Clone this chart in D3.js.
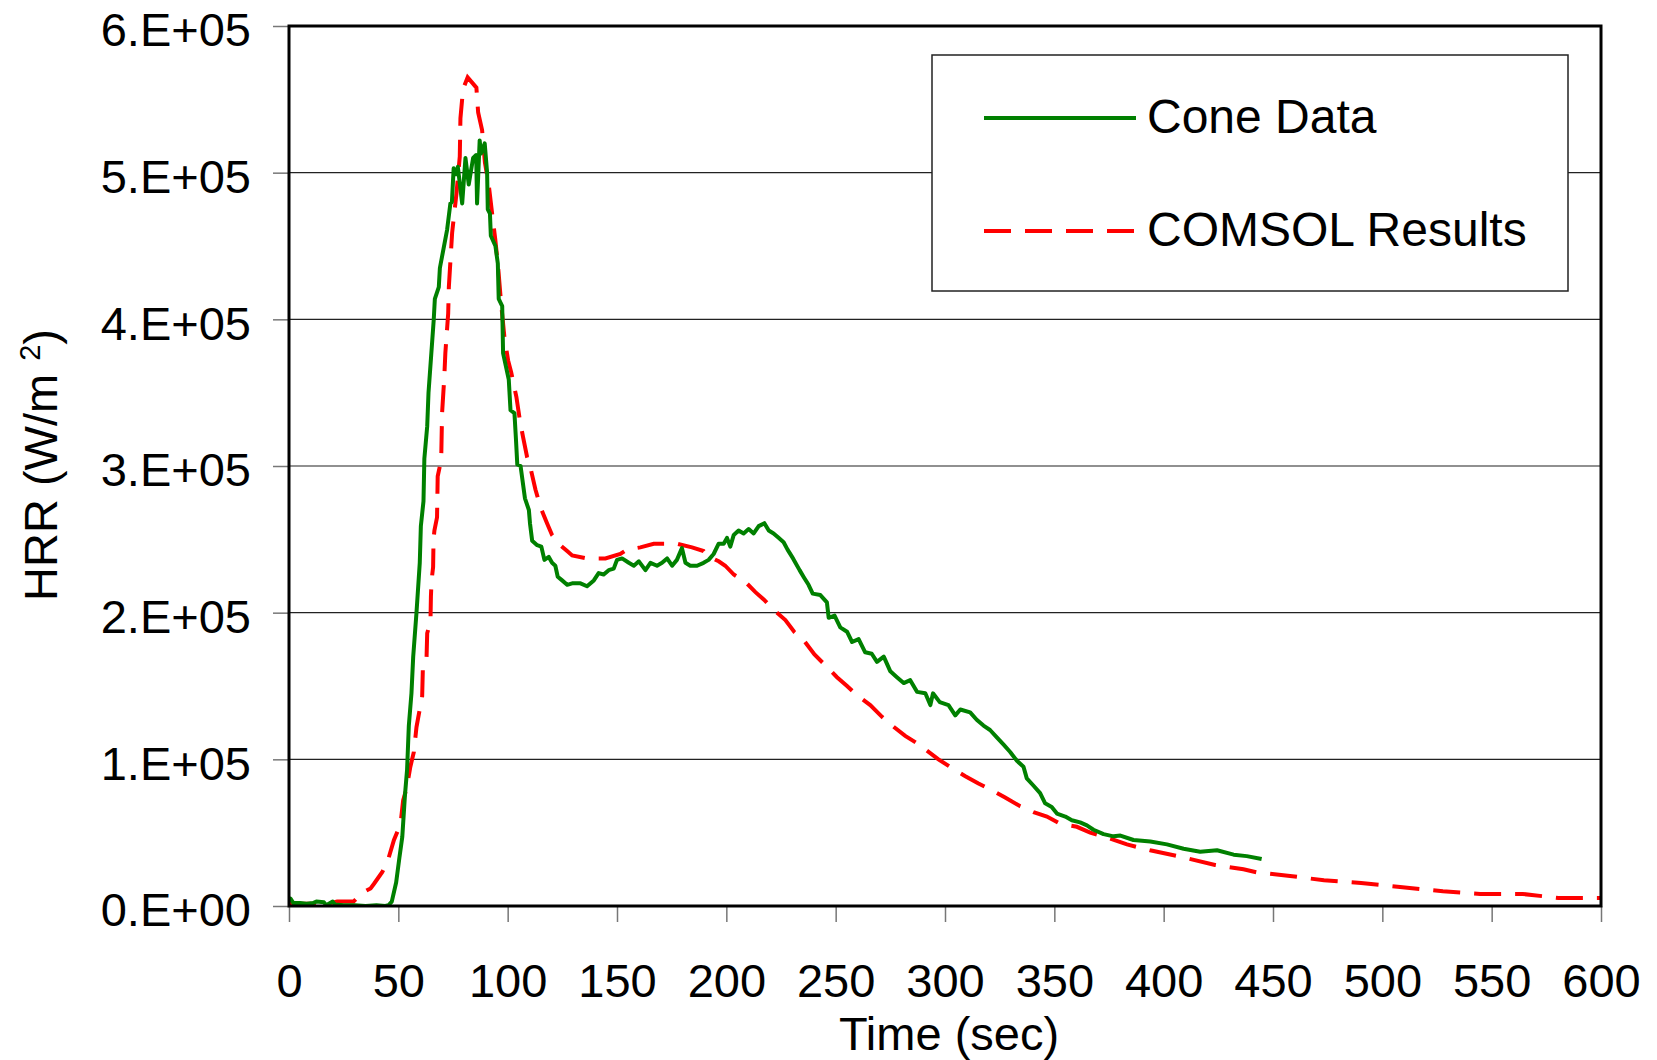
<!DOCTYPE html>
<html>
<head>
<meta charset="utf-8">
<script src="https://cdn.jsdelivr.net/npm/d3@7"></script>
<style>
  body { margin: 0; background: #fff; }
  svg { display: block; font-family: "Liberation Sans", Arial, sans-serif; }
</style>
</head>
<body>
<div id="chart"></div>
<script>
// HRR values are in units of 1e5 W/m2
var xTicks = [0, 50, 100, 150, 200, 250, 300, 350, 400, 450, 500, 550, 600];
var yTicks = [0, 1, 2, 3, 4, 5, 6];
var yTickLabels = ["0.E+00", "1.E+05", "2.E+05", "3.E+05", "4.E+05", "5.E+05", "6.E+05"];
var seriesNames = ["Cone Data", "COMSOL Results"];

var coneTime = [0, 0.7, 2, 5, 8, 11, 12.5, 16, 17, 20, 21, 25, 30, 35, 40, 44, 45.5, 47, 49, 50.5,
  51.8, 53, 54, 54.8, 56, 56.8, 58.3, 59.8, 60.3, 61.5, 61.9, 63.2, 63.8, 66.2, 66.7, 68.5, 69, 72.3, 73.8, 74.5,
  75.3, 76.5, 77.2, 79.2, 80.7, 82.2, 84.2, 85.6, 86, 87.2, 87.8, 89.5, 90.6, 90.9, 91.9, 92.3, 94.4, 95.5, 95.9, 97.5,
  97.9, 100.5, 101.3, 103.1, 103.8, 104.4, 105.9, 107.9, 109.7, 110.2, 111.2, 113.5, 115.4, 116.8, 118.8, 120.3, 121.8, 122.9, 124.9, 127.2,
  129.5, 133.3, 136.3, 139.4, 141.6, 143.9, 146.2, 148.5, 150, 152.3, 155.4, 157.7, 160, 163, 165.3, 168.3, 170.6, 172.9, 175.2, 177.4,
  179.7, 181.3, 183.5, 186.6, 189.6, 191.9, 194.2, 196.5, 198.8, 200.3, 201.8, 203.4, 205.6, 207.9, 210.2, 212.5, 214.8, 217.4, 219.4, 221.6,
  223.9, 226.2, 228, 230.5, 233.5, 235.5, 237.6, 239.5, 243, 246, 246.8, 249.5, 252.1, 255.2, 257.5, 260.5, 263.5, 266.5, 268.9, 272,
  275, 278, 281.1, 284.1, 287.2, 291, 293.3, 294.5, 297.6, 301.6, 304.7, 307, 311.5, 314.5, 317.6, 320.6, 323.7, 326.8, 329.8, 332.9,
  335.9, 337.4, 340.5, 343.5, 345.8, 348.8, 351.2, 355, 358, 361.8, 364.9, 367.9, 372.5, 377.1, 380.2, 386.2, 393.9, 401.5, 409.1, 416.7,
  424.4, 432, 438, 444.8];
var coneHRR = [0.04, 0.05, 0.02, 0.02, 0.015, 0.02, 0.03, 0.025, 0.005, 0.03, 0.01, 0.005, 0.005, 0, 0.005, 0, 0.005, 0.03, 0.16, 0.33,
  0.47, 0.75, 0.93, 1.23, 1.45, 1.7, 2.0, 2.34, 2.59, 2.76, 3.05, 3.27, 3.5, 4.0, 4.14, 4.22, 4.35, 4.61, 4.79, 4.8,
  5.03, 4.99, 5.04, 4.79, 5.1, 4.92, 5.1, 5.12, 4.79, 5.22, 5.13, 5.2, 5.0, 4.75, 4.72, 4.57, 4.5, 4.38, 4.14, 4.09,
  3.77, 3.59, 3.38, 3.36, 3.18, 3.01, 3.0, 2.78, 2.7, 2.61, 2.49, 2.46, 2.45, 2.36, 2.38, 2.34, 2.32, 2.245, 2.22, 2.19,
  2.2, 2.2, 2.18, 2.22, 2.27, 2.26, 2.29, 2.3, 2.36, 2.37, 2.34, 2.32, 2.35, 2.29, 2.34, 2.32, 2.34, 2.37, 2.32, 2.36,
  2.44, 2.34, 2.32, 2.32, 2.34, 2.36, 2.4, 2.47, 2.47, 2.51, 2.45, 2.53, 2.56, 2.54, 2.57, 2.54, 2.59, 2.61, 2.56, 2.54,
  2.51, 2.48, 2.43, 2.37, 2.29, 2.24, 2.19, 2.13, 2.12, 2.07, 1.965, 1.98, 1.9, 1.87, 1.8, 1.82, 1.73, 1.72, 1.665, 1.7,
  1.6, 1.56, 1.52, 1.54, 1.46, 1.45, 1.37, 1.45, 1.39, 1.37, 1.3, 1.34, 1.32, 1.27, 1.23, 1.2, 1.15, 1.1, 1.05, 0.99,
  0.95, 0.87, 0.82, 0.77, 0.7, 0.675, 0.63, 0.61, 0.585, 0.57, 0.55, 0.52, 0.49, 0.475, 0.48, 0.45, 0.44, 0.42, 0.39, 0.37,
  0.38, 0.35, 0.34, 0.32];

var comsolTime = [0, 11, 14, 18, 22, 29.5, 33.5, 37.3, 38.8, 42.6, 44.5, 45.6, 48, 51, 52.2, 53.9, 55.5, 57.1, 58.3, 59.4,
  60.9, 61.2, 62.9, 63.2, 64.7, 64.9, 65.2, 65.9, 66.1, 66.5, 67.7, 68, 69.6, 70, 71, 71.5, 72.8, 73.1, 74.6, 76.6,
  78.1, 78.4, 79.6, 81.7, 85.7, 86.5, 88.3, 89.6, 91.4, 92.9, 94.3, 95.5, 97, 98.5, 100.2, 101.6, 104, 105.6, 107, 108.9,
  110.7, 112.7, 115, 118, 120.3, 124.1, 127.2, 129.5, 136.3, 144.7, 151.5, 154.6, 160.7, 166.8, 177.4, 184.3, 189.6, 191.1, 196.5, 199.5,
  203.4, 208.7, 213.3, 217.1, 221.6, 227, 231, 235.5, 240.3, 246, 250.6, 255.2, 259.5, 265.8, 271.2, 275.8, 281.8, 287.2, 291.7, 297,
  303.2, 309.3, 315.3, 321.4, 327.5, 334.4, 340.5, 346.6, 352.7, 360.3, 366.4, 375.5, 383.2, 393.8, 407.5, 423.5, 436.5, 442.4, 457.8, 473.3,
  490.3, 508.1, 527.7, 544.7, 564.2, 580.5, 600];
var comsolHRR = [0.015, 0.015, 0.01, 0.015, 0.03, 0.03, 0.09, 0.12, 0.15, 0.23, 0.29, 0.33, 0.45, 0.56, 0.72, 0.81, 0.95, 1.05, 1.22, 1.31,
  1.43, 1.61, 1.69, 1.86, 1.94, 2.11, 2.22, 2.31, 2.5, 2.56, 2.65, 2.93, 3.04, 3.36, 3.6, 3.77, 4.04, 4.22, 4.59, 4.86,
  5.11, 5.37, 5.57, 5.65, 5.58, 5.41, 5.29, 5.07, 4.91, 4.72, 4.55, 4.38, 4.11, 3.88, 3.72, 3.64, 3.47, 3.31, 3.2, 3.06,
  2.97, 2.84, 2.72, 2.61, 2.53, 2.46, 2.42, 2.39, 2.37, 2.37, 2.4, 2.43, 2.445, 2.47, 2.47, 2.445, 2.42, 2.39, 2.35, 2.32,
  2.26, 2.21, 2.14, 2.09, 2.02, 1.95, 1.87, 1.81, 1.715, 1.63, 1.56, 1.5, 1.44, 1.37, 1.29, 1.23, 1.16, 1.11, 1.06, 1.0,
  0.94, 0.885, 0.835, 0.79, 0.74, 0.68, 0.64, 0.61, 0.56, 0.54, 0.5, 0.46, 0.42, 0.38, 0.337, 0.28, 0.25, 0.23, 0.205, 0.175,
  0.157, 0.13, 0.1, 0.082, 0.082, 0.055, 0.055];

var W = 1657, H = 1060;
var margin = {top: 26, right: 56, bottom: 154, left: 289};
var width = W - margin.left - margin.right;
var height = H - margin.top - margin.bottom;

var svg = d3.select("#chart").append("svg")
    .attr("width", W)
    .attr("height", H);

var g = svg.append("g")
    .attr("transform", "translate(" + margin.left + "," + margin.top + ")");

var x = d3.scaleLinear().domain([0, 600]).range([0, width]);
var y = d3.scaleLinear().domain([0, 6]).range([height, 0]);

// gridlines
g.selectAll(".grid")
    .data(yTicks.slice(1, -1))
    .enter().append("line")
    .attr("x1", 0).attr("x2", width)
    .attr("y1", d => y(d)).attr("y2", d => y(d))
    .attr("stroke", "#222")
    .attr("stroke-width", 1.2);

// axes with outer ticks
var xAxis = g.append("g")
    .attr("transform", "translate(0," + height + ")")
    .call(d3.axisBottom(x).tickValues(xTicks).tickSize(16).tickPadding(42).tickFormat(d3.format("d")));
var yAxis = g.append("g")
    .call(d3.axisLeft(y).tickValues(yTicks).tickSize(16).tickPadding(22).tickFormat((d, i) => yTickLabels[i]));

[xAxis, yAxis].forEach(function (a) {
    a.select(".domain").remove();
    a.selectAll(".tick line").attr("stroke", "#777").attr("stroke-width", 1.5);
    a.selectAll(".tick text")
        .attr("fill", "#000")
        .style("font-size", "47px")
        .style("font-family", "'Liberation Sans', Arial, sans-serif");
});
yAxis.selectAll(".tick text").attr("dy", "0.42em");
xAxis.selectAll(".tick text").attr("dy", "0.71em");

// clip to plot area
svg.append("defs").append("clipPath").attr("id", "clip")
    .append("rect").attr("width", width).attr("height", height);

var line = d3.line()
    .x(d => x(d[0]))
    .y(d => y(d[1]));

var coneData = coneTime.map((t, i) => [t, coneHRR[i]]);
var comsolData = comsolTime.map((t, i) => [t, comsolHRR[i]]);

g.append("path")
    .datum(comsolData)
    .attr("clip-path", "url(#clip)")
    .attr("fill", "none")
    .attr("stroke", "#ff0000")
    .attr("stroke-width", 4)
    .attr("stroke-dasharray", "27,14")
    .attr("d", line);

g.append("path")
    .datum(coneData)
    .attr("clip-path", "url(#clip)")
    .attr("fill", "none")
    .attr("stroke", "#008000")
    .attr("stroke-width", 4)
    .attr("stroke-linejoin", "round")
    .attr("d", line);

// plot frame
g.append("rect")
    .attr("width", width).attr("height", height)
    .attr("fill", "none")
    .attr("stroke", "#000")
    .attr("stroke-width", 3);

// legend
var legend = svg.append("g");
legend.append("rect")
    .attr("x", 932).attr("y", 55)
    .attr("width", 636).attr("height", 236)
    .attr("fill", "#fff")
    .attr("stroke", "#222")
    .attr("stroke-width", 1.5);

var legendItems = legend.selectAll(".item")
    .data(seriesNames)
    .enter().append("g")
    .attr("transform", (d, i) => "translate(0," + (118 + i * 113) + ")");

legendItems.append("line")
    .attr("x1", 984).attr("x2", 1136)
    .attr("stroke", (d, i) => i === 0 ? "#008000" : "#ff0000")
    .attr("stroke-width", 4)
    .attr("stroke-dasharray", (d, i) => i === 0 ? null : "27,14");

legendItems.append("text")
    .attr("x", 1147)
    .attr("y", 15)
    .style("font-size", "48px")
    .text(d => d);

// axis titles
svg.append("text")
    .attr("x", 949)
    .attr("y", 1050)
    .attr("text-anchor", "middle")
    .style("font-size", "47px")
    .text("Time (sec)");

var yTitle = svg.append("text")
    .attr("transform", "translate(57,465) rotate(-90)")
    .attr("text-anchor", "middle")
    .style("font-size", "47px");
yTitle.append("tspan").text("HRR (W/m ");
yTitle.append("tspan").attr("dy", "-0.6em").style("font-size", "29px").text("2");
yTitle.append("tspan").attr("dy", "0.38em").text(")");
</script>
</body>
</html>
